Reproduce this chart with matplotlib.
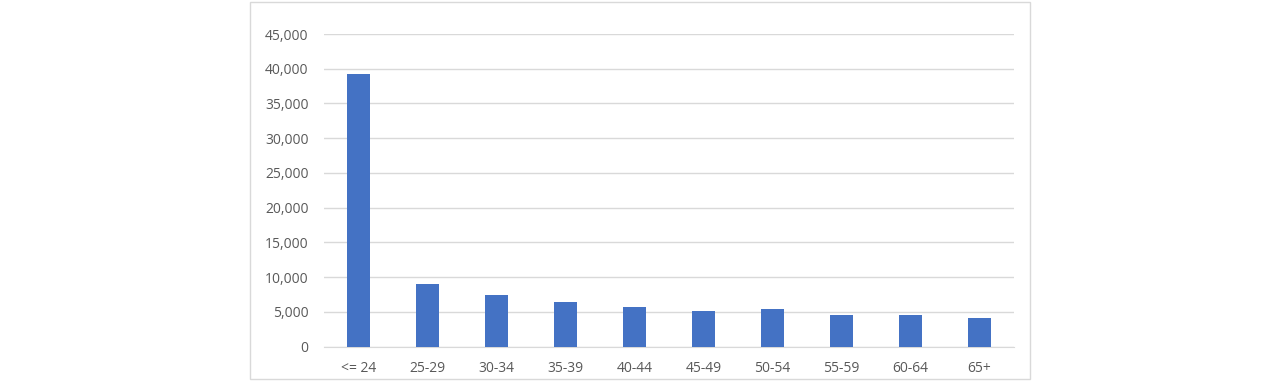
import matplotlib
matplotlib.use("Agg")
import matplotlib.pyplot as plt
from matplotlib.patches import Rectangle
from matplotlib.ticker import FuncFormatter

categories = ["<= 24", "25-29", "30-34", "35-39", "40-44", "45-49", "50-54", "55-59", "60-64", "65+"]
values = [39300, 9000, 7450, 6480, 5760, 5100, 5390, 4570, 4570, 4090]
yticks = [0, 5000, 10000, 15000, 20000, 25000, 30000, 35000, 40000, 45000]

plt.rcParams['font.family'] = ['Open Sans', 'DejaVu Sans']
fig = plt.figure(figsize=(12.8, 3.82), dpi=100)
fig.patches.append(Rectangle((250/1280, 1 - 379/382), 780/1280, 377/382,
                             transform=fig.transFigure, fill=False,
                             edgecolor='#d9d9d9', linewidth=1))
ax = fig.add_axes([324/1280, 1 - 346.7/382, 690/1280, (346.7 - 34)/382])
x = list(range(len(categories)))
ax.bar(x, values, width=0.32, color='#4472c4', zorder=3)
ax.set_xlim(-0.5, len(categories) - 0.5)
ax.set_ylim(0, 45000)
ax.set_yticks(yticks)
ax.yaxis.set_major_formatter(FuncFormatter(lambda v, p: f"{int(v):,}"))
ax.set_xticks(x)
ax.set_xticklabels(categories)
ax.grid(axis='y', color='#d9d9d9', linewidth=1, zorder=0)
for s in ['top', 'right', 'left']:
    ax.spines[s].set_visible(False)
ax.spines['bottom'].set_color('#d9d9d9')
ax.tick_params(axis='both', length=0, colors='#595959', labelsize=10)
ax.tick_params(axis='y', pad=11)
ax.tick_params(axis='x', pad=10)
fig.savefig("out.png", dpi=100)
